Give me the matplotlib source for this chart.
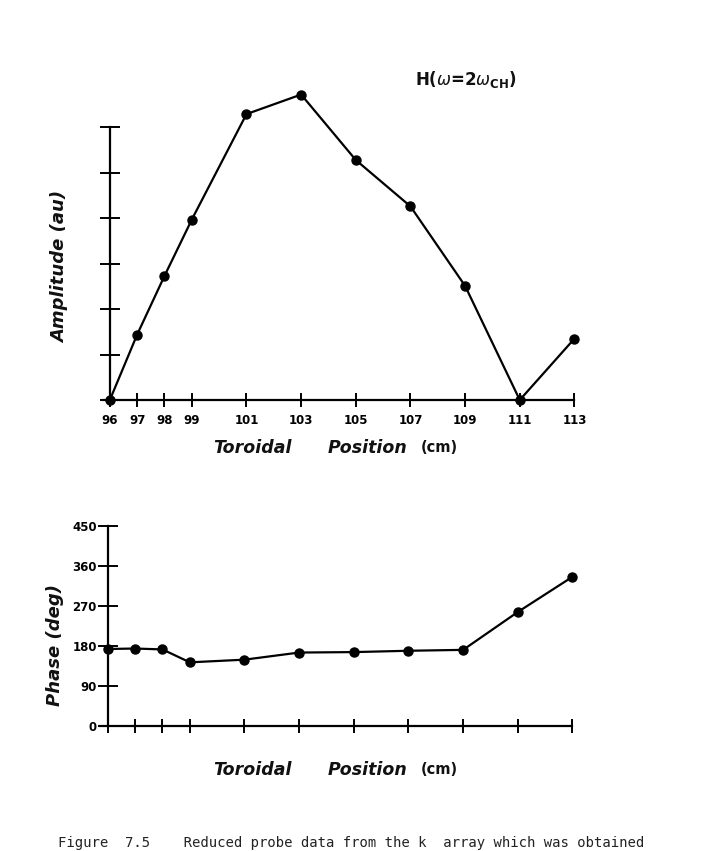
import matplotlib
matplotlib.use("Agg")
import matplotlib.pyplot as plt

# toroidal probe positions (cm)
positions = [96, 97, 98, 99, 101, 103, 105, 107, 109, 111, 113]
tick_labels = ["96", "97", "98", "99", "101", "103", "105", "107", "109", "111", "113"]

# amplitude (arbitrary units, 6 tick divisions on the axis)
amplitude = [0.0, 1.44, 2.73, 3.97, 6.29, 6.72, 5.28, 4.26, 2.51, 0.0, 1.35]
amp_ticks = [0, 1, 2, 3, 4, 5, 6]

# phase (deg)
phase = [173, 174, 172, 143, 149, 165, 166, 169, 171, 256, 335]
phase_ticks = [0, 90, 180, 270, 360, 450]

W, H = 701, 851
XLIM = (95.64, 113.57)


def fx(px):
    return px / W


def fy(py):
    return 1 - py / H


def px_axes(fig, left, top, right, bottom):
    return fig.add_axes([fx(left), fy(bottom), (right - left) / W, (bottom - top) / H])


def style_axes(ax):
    for side in ("top", "right"):
        ax.spines[side].set_visible(False)
    for side in ("left", "bottom"):
        ax.spines[side].set_linewidth(1.6)
    ax.spines["left"].set_position(("data", 96))
    ax.spines["bottom"].set_position(("data", 0))
    ax.set_facecolor("none")


def toroidal_label(fig, y):
    kw = dict(fontsize=12.5, fontstyle="italic", fontweight="bold", va="center", ha="left",
              color="#111111")
    fig.text(fx(213), fy(y), "Toroidal", **kw)
    fig.text(fx(328), fy(y), "Position", **kw)
    fig.text(fx(421), fy(y), "(cm)", fontsize=10.5, fontweight="bold", va="center", ha="left",
             color="#111111")


fig = plt.figure(figsize=(W / 100, H / 100), dpi=100)
fig.patch.set_facecolor("white")

line_kw = dict(color="black", linewidth=1.6, marker="o", markersize=6.5, zorder=5, clip_on=False)

# --- amplitude panel ---
ax1 = px_axes(fig, 100, 85, 590, 410)
style_axes(ax1)
ax1.plot(positions, amplitude, **line_kw)
ax1.set_xlim(*XLIM)
ax1.set_ylim(-0.22, 6.93)
ax1.spines["left"].set_bounds(0, 6)
ax1.spines["bottom"].set_bounds(95.75, 113)
ax1.set_xticks(positions)
ax1.set_xticklabels(tick_labels, fontsize=8.5, fontweight="bold")
ax1.set_yticks(amp_ticks)
ax1.set_yticklabels([])
ax1.tick_params(axis="x", direction="inout", length=9.5, width=1.4, pad=5)
ax1.tick_params(axis="y", direction="inout", length=14, width=1.4)

fig.text(fx(60), fy(267), "Amplitude (au)", rotation=90, fontsize=13, fontweight="bold",
         fontstyle="italic", va="center", ha="center", color="#111111")
fig.text(fx(415), fy(80), r"H($\omega$=2$\omega_{\mathbf{CH}}$)", fontsize=12, fontweight="bold",
         va="center", ha="left", color="#111111")
toroidal_label(fig, 448)

# --- phase panel ---
ax2 = px_axes(fig, 98, 510, 588, 740)
style_axes(ax2)
ax2.plot(positions, phase, **line_kw)
ax2.set_xlim(*XLIM)
ax2.set_ylim(-31.4, 485.1)
ax2.spines["left"].set_bounds(0, 450)
ax2.spines["bottom"].set_bounds(95.7, 113)
ax2.set_xticks(positions)
ax2.set_xticklabels([])
ax2.set_yticks(phase_ticks)
ax2.set_yticklabels([str(t) for t in phase_ticks], fontsize=8.5, fontweight="bold")
ax2.tick_params(axis="x", direction="inout", length=9.5, width=1.4)
ax2.tick_params(axis="y", direction="inout", length=14, width=1.4, pad=1)

fig.text(fx(55), fy(645), "Phase (deg)", rotation=90, fontsize=13, fontweight="bold",
         fontstyle="italic", va="center", ha="center", color="#111111")
toroidal_label(fig, 770)

# caption at the bottom edge
fig.text(fx(58), fy(836), "Figure  7.5    Reduced probe data from the k  array which was obtained",
         family="DejaVu Sans Mono", fontsize=10, va="top", ha="left", color="#222222")

fig.savefig("out.png", dpi=100)
